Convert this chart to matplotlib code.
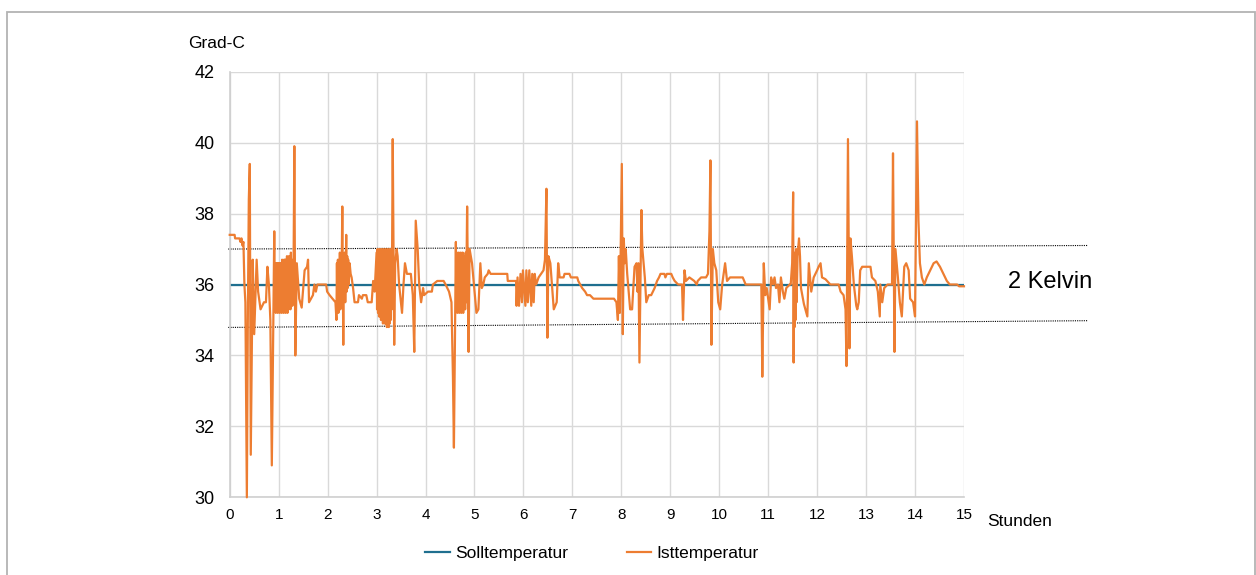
import matplotlib
matplotlib.use('Agg')
import matplotlib.pyplot as plt
from matplotlib.patches import Rectangle

plt.rcParams['font.family'] = ['Liberation Sans', 'DejaVu Sans']

# Solltemperatur (konstant)
soll_hours = [0, 15]
soll_temp = [36.0, 36.0]

# Toleranzband (gepunktete Linien, +/- 1 K)
band_hours = [-0.03, 17.52]
band_upper = [37.0, 37.1]
band_lower = [34.79, 34.98]

# Isttemperatur (Stunde, Grad-C)
ist_0_1 = [(0.00, 37.4), (0.10, 37.4), (0.11, 37.3), (0.20, 37.3), (0.22, 37.2),
           (0.24, 37.3), (0.26, 37.1), (0.28, 37.2), (0.30, 36.0), (0.32, 35.5),
           (0.35, 30.0), (0.37, 35.0), (0.39, 38.4), (0.41, 39.4), (0.43, 31.2),
           (0.47, 36.7), (0.50, 34.6), (0.55, 36.7), (0.58, 35.8), (0.63, 35.3),
           (0.70, 35.5), (0.74, 35.5), (0.77, 36.5), (0.80, 36.0), (0.83, 35.0),
           (0.86, 30.9), (0.91, 37.5),
           (0.92, 35.3), (0.93, 36.6), (0.94, 35.2), (0.95, 36.6), (0.96, 35.3),
           (0.97, 36.6), (0.98, 35.2), (0.99, 36.6), (1.00, 35.3), (1.01, 36.6),
           (1.02, 35.2), (1.03, 36.6), (1.04, 35.3), (1.05, 36.6), (1.06, 35.2),
           (1.07, 36.7), (1.08, 35.3), (1.09, 36.6), (1.10, 35.2), (1.11, 36.7),
           (1.12, 35.3), (1.13, 36.7), (1.14, 35.2), (1.15, 36.7), (1.16, 35.3),
           (1.17, 36.8), (1.18, 35.2), (1.19, 36.7), (1.20, 35.3), (1.21, 36.8),
           (1.22, 35.4), (1.23, 36.7), (1.24, 35.3), (1.25, 36.9), (1.26, 35.5),
           (1.27, 36.7), (1.28, 35.4), (1.29, 36.6), (1.30, 35.6)]

ist_1_3 = [(1.32, 39.9), (1.34, 34.0), (1.37, 36.6), (1.42, 35.6), (1.47, 35.35),
           (1.53, 36.4), (1.58, 36.5), (1.60, 36.7), (1.62, 35.5), (1.66, 35.6),
           (1.70, 35.7), (1.73, 36.0), (1.76, 35.8), (1.79, 36.0), (1.97, 36.0),
           (1.99, 35.8), (2.04, 35.7), (2.10, 35.6), (2.16, 35.5),
           (2.18, 35.0), (2.19, 36.6), (2.20, 35.3), (2.21, 36.7), (2.22, 35.2),
           (2.23, 36.5), (2.24, 35.4), (2.25, 36.9), (2.26, 35.3), (2.27, 36.7),
           (2.28, 35.5), (2.30, 38.2), (2.32, 34.3), (2.33, 36.8), (2.34, 35.6),
           (2.35, 36.9), (2.36, 35.5), (2.38, 37.4), (2.39, 35.8), (2.40, 36.8),
           (2.41, 35.9), (2.42, 36.7), (2.43, 36.0), (2.45, 36.6), (2.47, 36.3),
           (2.49, 36.2), (2.52, 35.9), (2.55, 35.5), (2.62, 35.5), (2.64, 35.7),
           (2.70, 35.6), (2.72, 35.7), (2.79, 35.7), (2.82, 35.5), (2.90, 35.5),
           (2.93, 36.1), (2.96, 35.8)]

ist_3_5 = [(3.00, 36.9), (3.01, 35.3), (3.02, 37.0), (3.03, 35.2), (3.04, 36.9),
           (3.05, 35.1), (3.06, 37.0), (3.07, 35.1), (3.08, 36.9), (3.09, 35.0),
           (3.10, 37.0), (3.11, 35.0), (3.12, 36.9), (3.13, 34.9), (3.14, 37.0),
           (3.15, 35.0), (3.16, 36.9), (3.17, 34.9), (3.18, 37.0), (3.19, 34.9),
           (3.20, 36.9), (3.21, 34.8), (3.22, 37.0), (3.23, 34.9), (3.24, 36.9),
           (3.25, 34.8), (3.26, 37.0), (3.27, 34.9), (3.28, 36.9), (3.29, 35.0),
           (3.30, 37.0), (3.31, 35.3), (3.33, 40.1), (3.36, 34.3), (3.38, 36.6),
           (3.41, 37.0), (3.43, 36.8), (3.46, 36.0), (3.52, 35.2), (3.55, 36.0),
           (3.58, 36.6), (3.62, 36.3), (3.70, 36.3), (3.74, 35.7), (3.77, 34.1),
           (3.80, 37.8), (3.84, 37.0), (3.87, 36.0), (3.91, 35.5), (3.95, 35.9),
           (3.97, 35.7), (4.05, 35.8), (4.13, 35.8), (4.15, 36.0), (4.24, 36.1),
           (4.37, 36.1), (4.41, 36.0), (4.48, 35.8), (4.53, 35.5), (4.56, 33.4),
           (4.58, 31.4), (4.62, 37.2),
           (4.63, 35.3), (4.64, 36.9), (4.65, 35.2), (4.66, 36.8), (4.67, 35.3),
           (4.68, 36.9), (4.69, 35.2), (4.70, 36.8), (4.71, 35.3), (4.72, 36.9),
           (4.73, 35.2), (4.74, 36.7), (4.75, 35.3), (4.76, 36.9), (4.77, 35.2),
           (4.78, 36.8), (4.79, 35.4), (4.80, 36.7), (4.81, 35.3), (4.82, 36.9),
           (4.83, 35.5), (4.85, 38.2), (4.88, 34.1), (4.90, 37.0), (4.95, 36.6)]

ist_5_8 = [(5.04, 35.2), (5.08, 35.3), (5.12, 36.6), (5.15, 35.9), (5.18, 36.0),
           (5.21, 36.2), (5.27, 36.3), (5.29, 36.4), (5.33, 36.3), (5.67, 36.3),
           (5.68, 36.1), (5.85, 36.1), (5.86, 35.4), (5.88, 36.2), (5.91, 35.4),
           (5.94, 36.3), (5.97, 35.5), (5.99, 36.4), (6.04, 35.4), (6.06, 36.4),
           (6.09, 35.5), (6.12, 36.4), (6.16, 35.4), (6.18, 36.3), (6.21, 35.5),
           (6.23, 36.3), (6.26, 36.0), (6.31, 36.2), (6.36, 36.3), (6.41, 36.4),
           (6.44, 36.7), (6.47, 38.7), (6.49, 34.5), (6.51, 36.8), (6.55, 36.6),
           (6.62, 35.3), (6.68, 35.5), (6.71, 36.6), (6.74, 36.2), (6.82, 36.2),
           (6.84, 36.3), (6.94, 36.3), (6.97, 36.2), (7.10, 36.2), (7.12, 36.1),
           (7.16, 36.0), (7.20, 35.9), (7.26, 35.8), (7.30, 35.7), (7.36, 35.7),
           (7.43, 35.6), (7.60, 35.6), (7.85, 35.6), (7.90, 35.5), (7.93, 35.0),
           (7.95, 36.8), (7.97, 35.2)]

ist_8_11 = [(8.01, 39.4), (8.03, 34.6), (8.05, 37.3), (8.07, 36.6), (8.09, 37.0),
            (8.12, 36.3), (8.15, 35.8), (8.18, 35.3), (8.22, 35.3), (8.27, 36.5),
            (8.31, 36.6), (8.33, 35.8), (8.35, 36.6), (8.37, 33.8), (8.41, 38.1),
            (8.43, 37.0), (8.48, 36.2), (8.51, 35.5), (8.56, 35.7), (8.61, 35.7),
            (8.68, 35.9), (8.73, 36.1), (8.77, 36.2), (8.80, 36.3), (8.88, 36.3),
            (8.90, 36.2), (8.93, 36.3), (9.02, 36.3), (9.05, 36.2), (9.09, 36.1),
            (9.16, 36.0), (9.24, 36.0), (9.26, 35.0), (9.29, 36.4), (9.32, 36.1),
            (9.39, 36.2), (9.49, 36.1), (9.54, 36.0), (9.56, 36.1), (9.63, 36.2),
            (9.73, 36.2), (9.77, 36.3), (9.80, 37.5), (9.82, 39.5), (9.84, 34.3),
            (9.87, 37.0), (9.90, 36.6), (9.94, 36.4), (9.98, 35.5), (10.02, 35.3),
            (10.06, 36.0), (10.12, 36.6), (10.16, 36.1), (10.22, 36.2), (10.48, 36.2),
            (10.51, 36.1), (10.54, 36.0), (10.86, 36.0), (10.88, 33.4), (10.91, 36.6),
            (10.94, 35.7), (10.97, 35.9), (11.03, 35.3), (11.06, 36.2), (11.10, 36.0),
            (11.13, 36.2), (11.16, 35.9), (11.20, 36.0), (11.23, 35.5), (11.26, 36.2),
            (11.30, 35.8), (11.33, 35.6), (11.37, 35.9), (11.44, 36.0)]

ist_11_15 = [(11.46, 36.0), (11.49, 36.6), (11.51, 38.6), (11.52, 33.8), (11.53, 36.7),
             (11.54, 34.8), (11.55, 36.9), (11.56, 35.0), (11.57, 37.0), (11.58, 35.5),
             (11.60, 36.8), (11.63, 37.3), (11.65, 36.8), (11.67, 35.9), (11.73, 35.45),
             (11.80, 35.1), (11.83, 36.6), (11.88, 35.8), (11.93, 36.2), (12.00, 36.4),
             (12.03, 36.5), (12.07, 36.6), (12.10, 36.2), (12.17, 36.15), (12.27, 36.0),
             (12.44, 36.0), (12.48, 35.8), (12.54, 35.7), (12.58, 35.3), (12.60, 33.7),
             (12.63, 40.1), (12.66, 34.2), (12.68, 37.3), (12.71, 36.8), (12.75, 36.0),
             (12.80, 35.4), (12.82, 35.3), (12.85, 35.5), (12.88, 36.4), (12.92, 36.5),
             (13.09, 36.5), (13.12, 36.2), (13.19, 36.1), (13.24, 35.8), (13.28, 35.1),
             (13.29, 36.0), (13.33, 35.5), (13.37, 35.9), (13.44, 36.0), (13.53, 36.0),
             (13.55, 39.7), (13.58, 34.1), (13.60, 37.0), (13.65, 36.2), (13.69, 35.5),
             (13.73, 35.1), (13.78, 36.5), (13.82, 36.6), (13.87, 36.4), (13.90, 35.6),
             (13.96, 35.5), (14.00, 35.1), (14.04, 40.6), (14.07, 37.8), (14.10, 36.6),
             (14.14, 36.2), (14.19, 36.0), (14.24, 36.2), (14.31, 36.4), (14.38, 36.6),
             (14.44, 36.65), (14.51, 36.5), (14.58, 36.3), (14.65, 36.1), (14.71, 36.0),
             (14.86, 36.0), (14.90, 35.95), (15.00, 35.95)]

ist = ist_0_1 + ist_1_3 + ist_3_5 + ist_5_8 + ist_8_11 + ist_11_15
ist_hours = [p[0] for p in ist]
ist_temp = [p[1] for p in ist]

blue = '#1f6f8f'
orange = '#ed7d31'
grid_col = '#d9d9d9'

fig = plt.figure(figsize=(12.56, 5.75), dpi=100)
ax = fig.add_axes([0.1829, 0.1351, 0.5846, 0.7402])

ax.plot(band_hours, band_upper, color='black', lw=0.8, ls=(0, (1, 1)), clip_on=False, zorder=1)
ax.plot(band_hours, band_lower, color='black', lw=0.8, ls=(0, (1, 1)), clip_on=False, zorder=1)
l1, = ax.plot(soll_hours, soll_temp, color=blue, lw=1.6, zorder=2)
l2, = ax.plot(ist_hours, ist_temp, color=orange, lw=1.6, zorder=3, clip_on=False)

ax.set_xlim(0, 15)
ax.set_ylim(30, 42)
ax.set_xticks(range(0, 16))
ax.set_yticks(range(30, 43, 2))
ax.grid(True, color=grid_col, lw=1)
ax.set_axisbelow(True)
for side in ['top', 'right']:
    ax.spines[side].set_visible(False)
for side in ['left', 'bottom']:
    ax.spines[side].set_color('#cfcfcf')
    ax.spines[side].set_linewidth(1.2)
ax.tick_params(axis='x', length=0, pad=8, labelsize=11)
ax.tick_params(axis='y', length=0, pad=11, labelsize=13)

fig.text(188 / 1256, 1 - 43 / 575, 'Grad-C', fontsize=12.5, ha='left', va='center')
fig.text(987 / 1256, 1 - 521 / 575, 'Stunden', fontsize=12.5, ha='left', va='center')
fig.text(1008 / 1256, 1 - 282 / 575, '2 Kelvin', fontsize=17, ha='left', va='center')

fig.legend([l1, l2], ['Solltemperatur', 'Isttemperatur'], loc='center',
           bbox_to_anchor=(592 / 1256, 22 / 575), ncol=2, frameon=False,
           fontsize=12.5, handlelength=1.4, handletextpad=0.3, columnspacing=3.4)

fig.patches.append(Rectangle((6.5 / 1256, -0.05), 1248 / 1256, 0.05 + 1 - 12 / 575,
                             transform=fig.transFigure, fill=False,
                             edgecolor='#b3b3b3', lw=1.3))

fig.savefig('out.png', dpi=100)
